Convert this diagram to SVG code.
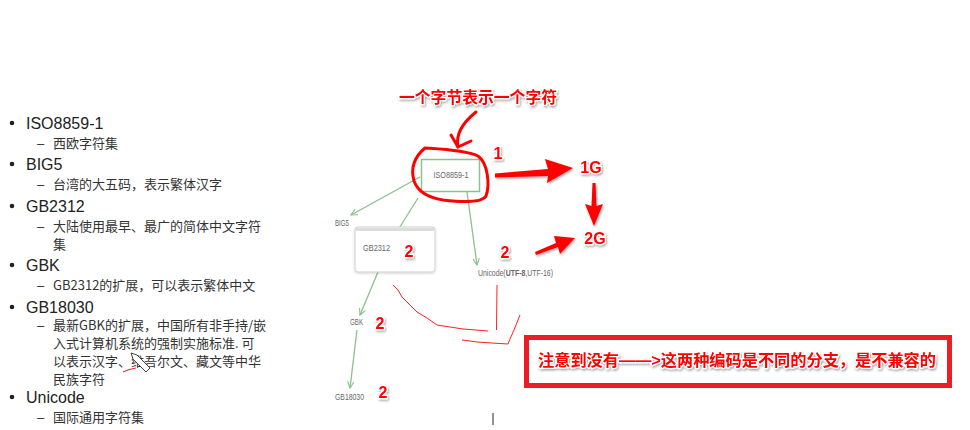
<svg xmlns="http://www.w3.org/2000/svg" width="970" height="430" viewBox="0 0 970 430">
<defs>
<style>
.t{font-family:"Liberation Sans","Noto Sans CJK SC",sans-serif;font-size:16px;fill:#222}
.s{font-family:"Noto Sans CJK SC","Liberation Sans",sans-serif;font-size:13px;fill:#333}
.d{font-family:"Liberation Sans",sans-serif;font-size:13px;fill:#333}
.n{font-family:"Liberation Sans",sans-serif;font-size:9px;fill:#666}
.red{font-family:"Liberation Sans","Noto Sans CJK SC",sans-serif;font-weight:bold;fill:#ff0000;stroke:#fff;stroke-width:2.5;paint-order:stroke;stroke-linejoin:round;filter:url(#sh)}
.g{stroke:#8cc08c;stroke-width:1.3;fill:none;marker-end:url(#ga)}
.hand{stroke:#ff0000;fill:none;stroke-width:3;stroke-linecap:round;stroke-linejoin:round}
.thin{stroke:#ff2020;fill:none;stroke-width:1}
.ra{fill:#ff0000;filter:url(#sh)}
</style>
<filter id="sh" x="-20%" y="-40%" width="140%" height="180%"><feDropShadow dx="1" dy="1.5" stdDeviation="0.8" flood-color="#000" flood-opacity="0.35"/></filter>
<filter id="bs" x="-10%" y="-10%" width="120%" height="130%"><feDropShadow dx="0" dy="1" stdDeviation="1.2" flood-color="#000" flood-opacity="0.18"/></filter>
<marker id="ga" viewBox="0 0 10 10" refX="9" refY="5" markerWidth="8" markerHeight="8" orient="auto" markerUnits="userSpaceOnUse"><path d="M1,1 L9,5 L1,9" fill="none" stroke="#8cc08c" stroke-width="1.4"/></marker>
</defs>
<rect width="970" height="430" fill="#fff"/>

<g id="list">
<circle cx="12" cy="123" r="2.3" fill="#222"/><text class="t" x="26" y="129">ISO8859-1</text>
<text class="d" x="37" y="148">–</text><text class="s" x="53" y="148">西欧字符集</text>
<circle cx="12" cy="164" r="2.3" fill="#222"/><text class="t" x="26" y="170">BIG5</text>
<text class="d" x="37" y="189">–</text><text class="s" x="53" y="189">台湾的大五码，表示繁体汉字</text>
<circle cx="12" cy="206" r="2.3" fill="#222"/><text class="t" x="26" y="212">GB2312</text>
<text class="d" x="37" y="231">–</text><text class="s" x="53" y="231">大陆使用最早、最广的简体中文字符</text>
<text class="s" x="53" y="249">集</text>
<circle cx="12" cy="265" r="2.3" fill="#222"/><text class="t" x="26" y="271">GBK</text>
<text class="d" x="37" y="290">–</text><text class="s" x="53" y="290">GB2312的扩展，可以表示繁体中文</text>
<circle cx="12" cy="307" r="2.3" fill="#222"/><text class="t" x="26" y="313">GB18030</text>
<text class="d" x="37" y="330">–</text><text class="s" x="53" y="330">最新GBK的扩展，中国所有非手持/嵌</text>
<text class="s" x="53" y="348">入式计算机系统的强制实施标准.  可</text>
<text class="s" x="53" y="366">以表示汉字、维吾尔文、藏文等中华</text>
<text class="s" x="53" y="384">民族字符</text>
<circle cx="12" cy="397" r="2.3" fill="#222"/><text class="t" x="26" y="403">Unicode</text>
<text class="d" x="37" y="422">–</text><text class="s" x="53" y="422">国际通用字符集</text>
</g>

<g id="cursor">
<path d="M131,353 L137,355 L150,368 L146,372 L133,359 Z" fill="#fff" stroke="#444" stroke-width="1"/>
<path d="M123,372 Q129,369 136,368" stroke="#e03030" stroke-width="1.2" fill="none"/>
</g>

<g id="connectors">
<line class="g" x1="420" y1="177" x2="351" y2="215"/>
<line class="g" x1="418" y1="198" x2="393" y2="238"/>
<line class="g" x1="467" y1="192" x2="477" y2="265"/>
<line class="g" x1="378" y1="272" x2="360" y2="315"/>
<line class="g" x1="357" y1="330" x2="350" y2="388"/>
</g>

<g id="iso8859">
<rect x="421.5" y="159.5" width="58" height="32" fill="#fff" stroke="#8cc08c" stroke-width="1.5"/>
<text class="n" x="451" y="177.5" text-anchor="middle" textLength="35" lengthAdjust="spacingAndGlyphs">ISO8859-1</text>
</g>
<g id="big5"><text class="n" x="335" y="226" textLength="14" lengthAdjust="spacingAndGlyphs">BIG5</text></g>
<g id="gb2312">
<rect x="355" y="227" width="80" height="45" rx="3" fill="#fff" stroke="#d0d0d0" filter="url(#bs)"/>
<rect x="356" y="228" width="78" height="3" fill="#dcdcdc"/>
<text class="n" x="363" y="251" textLength="27" lengthAdjust="spacingAndGlyphs">GB2312</text>
</g>
<g id="gbk"><text class="n" x="350" y="325" textLength="13" lengthAdjust="spacingAndGlyphs">GBK</text></g>
<g id="gb18030"><text class="n" x="335" y="400" textLength="29" lengthAdjust="spacingAndGlyphs">GB18030</text></g>
<g id="unicode" transform="translate(478,276) scale(0.77,1)">
<text class="n" x="0" y="0">Unicode(<tspan font-weight="bold">UTF-8</tspan>,UTF-16)</text>
</g>

<g id="annotations">
<text class="red" x="478" y="103" font-size="16" text-anchor="middle" textLength="158" lengthAdjust="spacingAndGlyphs">一个字节表示一个字符</text>
<path class="hand" d="M476,112 C466,120 455,132 458,147"/>
<path class="hand" d="M451,135 L458,147 L471,141"/>
<path class="hand" d="M425,148 C440,149 465,150 478,156 C488,163 490,185 486,196 C482,203 460,202 443,200 C430,198 418,192 414,181 C411,170 413,158 425,148"/>
<text class="red" x="498" y="159" font-size="16" text-anchor="middle">1</text>
<polygon class="ra" points="495,173.5 548,169 545,159 573,168 547,183 548,176 495,177.5"/>
<text class="red" x="591" y="173" font-size="16" text-anchor="middle">1G</text>
<polygon class="ra" points="592.5,183 595.5,183 596.5,206 603,204 594,226 585,204 591.5,206"/>
<text class="red" x="595" y="244" font-size="16" text-anchor="middle">2G</text>
<polygon class="ra" points="535,252 556,243 554,236 575,238 560,254 558,247 536,255"/>
<text class="red" x="505" y="258" font-size="16" text-anchor="middle">2</text>
<text class="red" x="409" y="257" font-size="16" text-anchor="middle">2</text>
<text class="red" x="380" y="329" font-size="16" text-anchor="middle">2</text>
<text class="red" x="383" y="398" font-size="16" text-anchor="middle">2</text>
<path class="thin" d="M393,285 L398,290 L402,297 L408,303 L417,312 L427,318 L437,325 L450,327 L463,329 L476,330 L488,331"/>
<path class="thin" d="M497,285 L496.5,330"/>
<path class="thin" d="M462,340 L470,341 L477,342 L492,343 L508,344 L510,339 L514,330 L520,315"/>
<line x1="493" y1="413" x2="493" y2="425" stroke="#555" stroke-width="1.3"/>
</g>

<g id="note">
<rect x="526.5" y="337.5" width="423" height="48" fill="#fff" stroke="#ee1c24" stroke-width="5"/>
<text class="red" x="737" y="366" font-size="16" text-anchor="middle" textLength="398" lengthAdjust="spacingAndGlyphs">注意到没有——&gt;这两种编码是不同的分支，是不兼容的</text>
</g>
</svg>
